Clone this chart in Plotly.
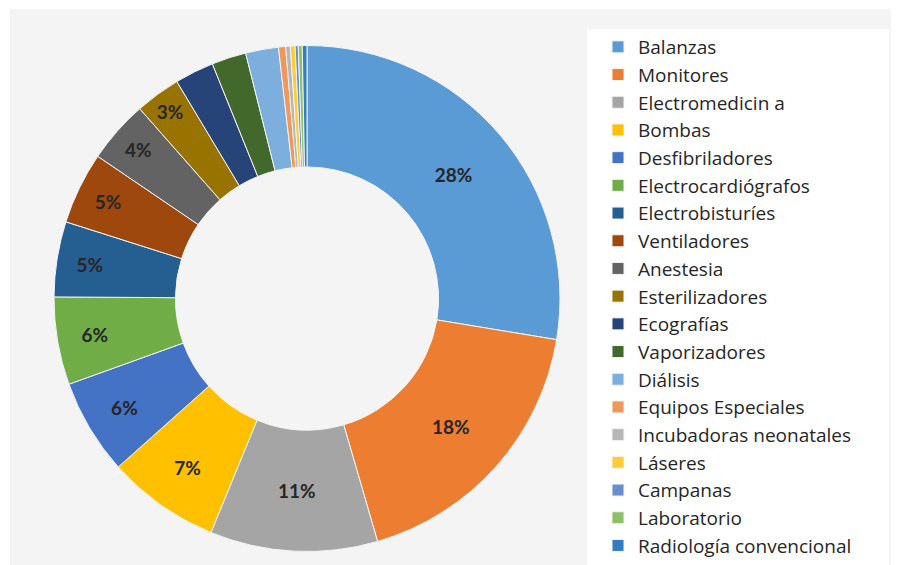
import plotly.graph_objects as go

categories = ["Balanzas", "Monitores", "Electromedicin a", "Bombas", "Desfibriladores",
              "Electrocardiógrafos", "Electrobisturíes", "Ventiladores", "Anestesia",
              "Esterilizadores", "Ecografías", "Vaporizadores", "Diálisis",
              "Equipos Especiales", "Incubadoras neonatales", "Láseres", "Campanas",
              "Laboratorio", "Radiología convencional"]
values = [27.6, 17.9, 10.7, 7.2, 6.1, 5.6, 4.8, 4.6, 4.0, 2.9, 2.5, 2.2, 2.1,
          0.45, 0.3, 0.3, 0.2, 0.25, 0.3]
show_label = [True] * 10 + [False] * 9
colors = ["#5B9BD5", "#ED7D31", "#A5A5A5", "#FFC000", "#4472C4", "#70AD47",
          "#255E91", "#9E480E", "#636363", "#997300", "#264478", "#43682B",
          "#7CAFDD", "#F1975A", "#B7B7B7", "#FFCD33", "#698ED0", "#8CC168", "#327DC2"]

W, H = 897, 565
templates = ["%{percent:.0%}" if s else "" for s in show_label]

fig = go.Figure(go.Pie(
    labels=categories,
    values=values,
    sort=False,
    direction="clockwise",
    rotation=0,
    hole=0.52,
    marker=dict(colors=colors, line=dict(color="#f4f4f4", width=1)),
    texttemplate=templates,
    textposition="inside",
    insidetextorientation="horizontal",
    textfont=dict(family="Lato", size=19, color="#262626", weight="bold"),
    domain=dict(x=[54 / W, 560 / W], y=[1 - 553 / H, 1 - 44 / H]),
    hoverinfo="label+percent",
))

fig.update_layout(
    width=W, height=H,
    margin=dict(l=0, r=0, t=0, b=0),
    paper_bgcolor="white",
    showlegend=True,
    legend=dict(
        x=598 / W, xanchor="left",
        y=1 - 29 / H, yanchor="top",
        bgcolor="rgba(0,0,0,0)",
        font=dict(family="Open Sans", size=19, color="#262626"),
        traceorder="normal",
    ),
    shapes=[
        dict(type="rect", xref="paper", yref="paper", layer="below",
             x0=10 / W, x1=891 / W, y0=0, y1=1 - 9 / H,
             fillcolor="#f4f4f4", line=dict(width=0)),
        dict(type="rect", xref="paper", yref="paper", layer="below",
             x0=587 / W, x1=889 / W, y0=0, y1=1 - 29 / H,
             fillcolor="white", line=dict(width=0)),
    ],
)

fig.write_html("out.html", config={"displayModeBar": False},
               post_script="document.body.style.margin='0';document.body.style.overflow='hidden';")
